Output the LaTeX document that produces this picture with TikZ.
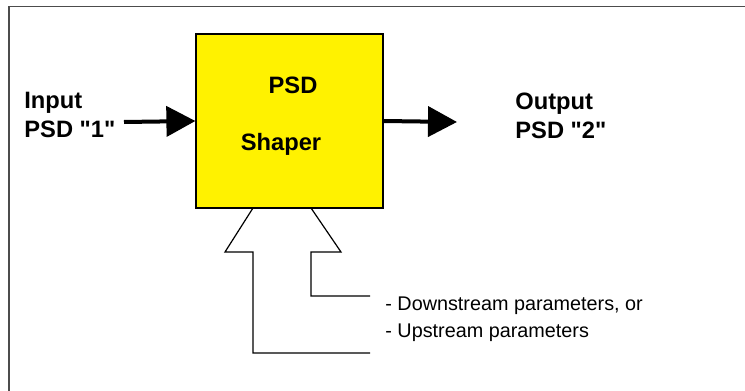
\documentclass[tikz,border=0pt]{standalone}
\usepackage{fontspec}
\setmainfont{Liberation Sans}
\usetikzlibrary{arrows.meta}
\tikzset{
  lbl/.style={font=\bfseries\fontsize{11.85}{14.5}\selectfont,align=left,inner sep=0pt},
  note/.style={font=\fontsize{9.9}{13.5}\selectfont,align=left,inner sep=0pt},
  flow/.style={line width=2pt,-{Triangle[length=14.5pt,width=15pt]}},
  shaperbox/.style={draw,fill=yellow,line width=0.6pt,minimum width=93.5pt,minimum height=87pt,inner sep=0pt}
}
\begin{document}
\begin{tikzpicture}[x=0.5pt,y=-0.5pt]
		\useasboundingbox (0,0) rectangle (745,391);
		\draw[gray!60!black,line width=0.8pt] (9,391)--(9,6.5)--(745,6.5);
		% main block
		\node[shaperbox] (shaper) at (289.5,121) {};
		\node[lbl,anchor=base] (psd) at (293,93) {PSD};
		\node[lbl,anchor=base] (shp) at (281,150) {Shaper};
		% input / output
		\node[lbl,anchor=north west] (in) at (24,92) {Input\\PSD \textquotedbl 1\textquotedbl};
		\node[lbl,anchor=north west] (out) at (515,93) {Output\\PSD \textquotedbl 2\textquotedbl};
		\coordinate (instart) at (124,122);
		\coordinate (outend) at (457,122);
		\draw[flow] (instart)--(shaper.west);
		\draw[flow] (shaper.east)--(outend);
		% parameter arrow
		\draw[line width=0.6pt] (370,353)--(253,353)--(253,252)--(225,252)--(253,208);
		\draw[line width=0.6pt] (370,296)--(311,296)--(311,252)--(341,252)--(311,208);
		\node[note,anchor=north west] (par) at (385,296) {- Downstream parameters, or\\- Upstream parameters};
\end{tikzpicture}
\end{document}
